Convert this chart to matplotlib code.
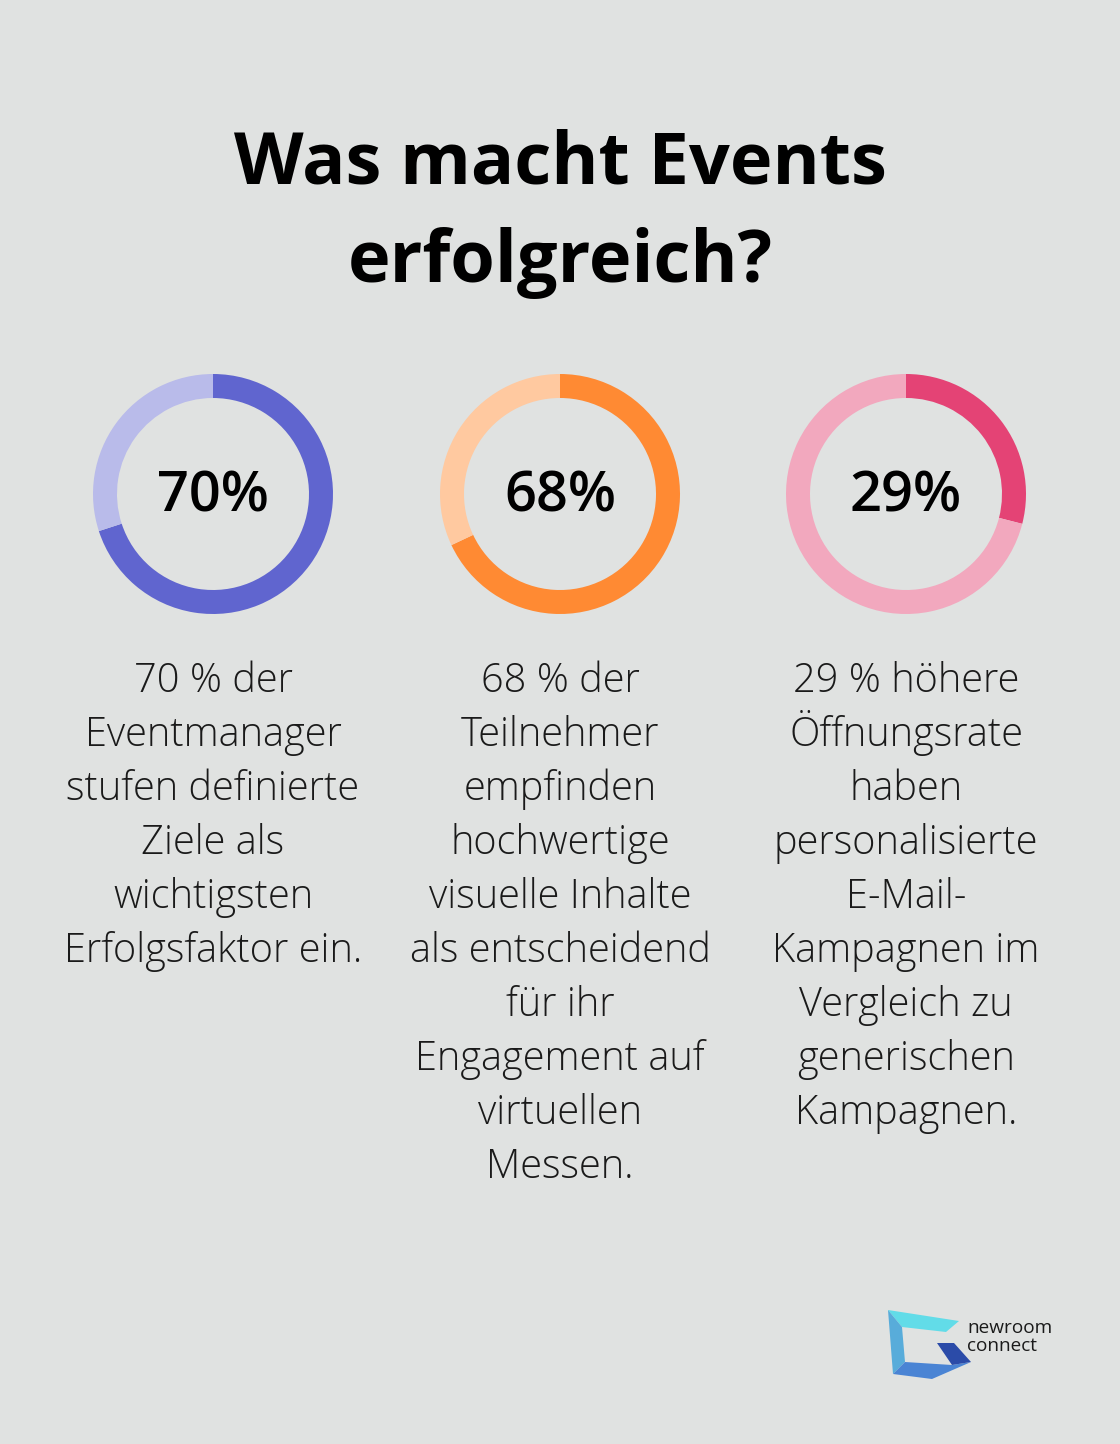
import matplotlib
matplotlib.use("Agg")
import matplotlib.pyplot as plt
from matplotlib.patches import Polygon

W, H = 1120, 1444
BG = "#E0E2E1"

title_lines = ["Was macht Events", "erfolgreich?"]
values = [70, 68, 29]
labels = ["70%", "68%", "29%"]
main_colors = ["#6065CF", "#FF8A33", "#E44375"]
light_colors = ["#B9BBEA", "#FFC9A0", "#F2A8BE"]
descriptions = [
    ["70 % der", "Eventmanager", "stufen definierte", "Ziele als",
     "wichtigsten", "Erfolgsfaktor ein."],
    ["68 % der", "Teilnehmer", "empfinden", "hochwertige", "visuelle Inhalte",
     "als entscheidend", "für ihr", "Engagement auf", "virtuellen", "Messen."],
    ["29 % höhere", "Öffnungsrate", "haben", "personalisierte", "E-Mail-",
     "Kampagnen im", "Vergleich zu", "generischen", "Kampagnen."],
]
logo_words = ["newroom", "connect"]

PX = 0.72  # px -> pt at dpi 100
FONT = ["Open Sans", "DejaVu Sans"]

fig = plt.figure(figsize=(W / 100, H / 100), dpi=100, facecolor=BG)
ax = fig.add_axes([0, 0, 1, 1])
ax.set_xlim(0, W)
ax.set_ylim(H, 0)
ax.axis("off")
ax.set_facecolor(BG)

# Title
title_baselines = [184, 282]
for line, yb in zip(title_lines, title_baselines):
    ax.text(560, yb, line, ha="center", va="baseline", fontsize=72 * PX,
            fontweight="bold", family=FONT, color="#000000")

centers = [213, 560, 906]
cy = 494
R = 120
ring = 24
for i, (cx, v) in enumerate(zip(centers, values)):
    dax = fig.add_axes([(cx - R) / W, (H - (cy + R)) / H, 2 * R / W, 2 * R / H])
    dax.pie([v, 100 - v], colors=[main_colors[i], light_colors[i]],
            startangle=90, counterclock=False, radius=1,
            wedgeprops=dict(width=ring / R, linewidth=0))
    dax.set_xlim(-1, 1)
    dax.set_ylim(-1, 1)
    dax.set_aspect("equal")
    dax.axis("off")
    ax.text(cx, 512, labels[i], ha="center", va="baseline", fontsize=56 * PX,
            fontweight="semibold", family=FONT, color="#000000")
    for k, line in enumerate(descriptions[i]):
        ax.text(cx, 692 + 54 * k, line, ha="center", va="baseline",
                fontsize=39.8 * PX, fontweight="light", family=FONT,
                color="#1a1a1a")

# Logo
shapes = [
    ([(888, 1310), (959, 1321), (946, 1332), (902, 1327)], "#62DCE8"),
    ([(888, 1310), (902, 1327), (905, 1362), (893, 1374)], "#58ACDA"),
    ([(893, 1374), (905, 1362), (952, 1365), (971, 1362), (932, 1379)], "#4A84D4"),
    ([(937, 1343), (954, 1343), (971, 1362), (952, 1365)], "#2B4BA8"),
]
for pts, c in shapes:
    ax.add_patch(Polygon(pts, closed=True, facecolor=c, edgecolor="none"))
ax.text(967, 1333, logo_words[0], ha="left", va="baseline", fontsize=19 * PX,
        family=FONT, color="#1a1a1a")
ax.text(967, 1351, logo_words[1], ha="left", va="baseline", fontsize=19 * PX,
        family=FONT, color="#1a1a1a")

fig.savefig("out.png", dpi=100, facecolor=BG)
